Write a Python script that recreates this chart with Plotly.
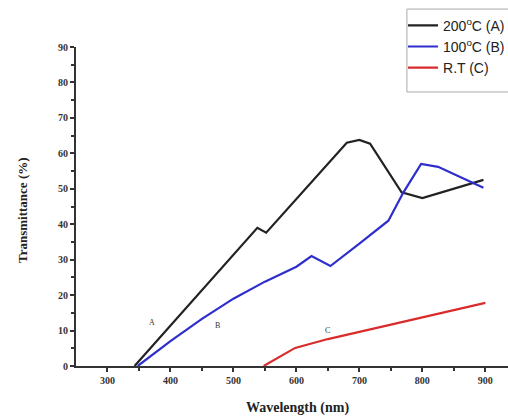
import plotly.graph_objects as go

# Data
wl_A = [343, 538, 552, 680, 700, 717, 767, 800, 897]
tr_A = [0, 39, 37.6, 63, 63.8, 62.7, 49, 47.4, 52.5]

wl_B = [348, 400, 450, 500, 550, 600, 624, 654, 700, 746, 770, 798, 825, 897]
tr_B = [0, 7, 13.3, 19, 23.8, 28, 31, 28.2, 34.5, 41, 49, 57, 56.2, 50.3]

wl_C = [548, 598, 650, 700, 750, 800, 850, 900]
tr_C = [0, 5.1, 7.6, 9.6, 11.6, 13.6, 15.7, 17.8]

names = ["200<sup>o</sup>C (A)", "100<sup>o</sup>C (B)", "R.T (C)"]
colors = ["#222222", "#2e2ecc", "#d92b2b"]

labels = ["A", "B", "C"]
label_x = [370, 475, 650]
label_y = [12.4, 11.3, 10]

x_title = "Wavelength (nm)"
y_title = "Transmittance (%)"

fig = go.Figure()
for wl, tr, nm, c in zip([wl_A, wl_B, wl_C], [tr_A, tr_B, tr_C], names, colors):
    fig.add_trace(go.Scatter(x=wl, y=tr, mode="lines", name=nm,
                             line=dict(color=c, width=2.2)))

for t, x, y in zip(labels, label_x, label_y):
    fig.add_annotation(x=x, y=y, text=t, showarrow=False,
                       font=dict(family="Liberation Serif", size=8, color="#333"))

serif = "Liberation Serif"
fig.add_annotation(xref="paper", yref="paper", x=0.513, y=0, yshift=-42,
                   xanchor="center", yanchor="middle", showarrow=False,
                   text="<b>" + x_title + "</b>",
                   font=dict(family=serif, size=14, color="#222"))
fig.add_annotation(xref="paper", yref="paper", x=0, xshift=-54, y=0.489,
                   xanchor="center", yanchor="middle", showarrow=False, textangle=-90,
                   text="<b>" + y_title + "</b>",
                   font=dict(family=serif, size=13, color="#222"))

# legend frame (extends past the right edge, as in the cropped reference)
fig.add_shape(type="rect", xref="paper", yref="paper", layer="below",
              x0=0.766, x1=1.2, y0=0.859, y1=1.119,
              line=dict(color="#aaa", width=1), fillcolor="white")

fig.update_layout(
    width=508, height=416,
    margin=dict(l=76, r=0, t=47, b=50, autoexpand=False),
    paper_bgcolor="white", plot_bgcolor="white",
    showlegend=True,
    legend=dict(x=0.757, y=1.117, xanchor="left", yanchor="top",
                borderwidth=0, bgcolor="rgba(0,0,0,0)",
                font=dict(family="Liberation Sans", size=14, color="#222"),
                tracegroupgap=0, itemwidth=30),
    xaxis=dict(range=[250, 936], tickvals=[300, 400, 500, 600, 700, 800, 900],
               showgrid=False, zeroline=False, showline=True, linecolor="#333",
               linewidth=2, ticks="outside", ticklen=4, tickwidth=1.5, tickcolor="#333",
               automargin=False,
               minor=dict(tickvals=[350, 450, 550, 650, 750, 850], ticks="outside",
                          ticklen=3, tickcolor="#333"),
               tickfont=dict(family=serif, size=10, color="#333", weight="bold")),
    yaxis=dict(range=[0, 90], dtick=10, showgrid=False, zeroline=False,
               showline=True, linecolor="#333", linewidth=2, automargin=False,
               ticks="outside", ticklen=4, tickwidth=1.5, tickcolor="#333",
               minor=dict(dtick=5, ticks="outside", ticklen=3, tickcolor="#333"),
               tickfont=dict(family=serif, size=10, color="#333", weight="bold")),
)

fig.write_html("out.html", config={"displayModeBar": False},
               post_script="document.body.style.margin='0';document.body.style.overflow='hidden';")
